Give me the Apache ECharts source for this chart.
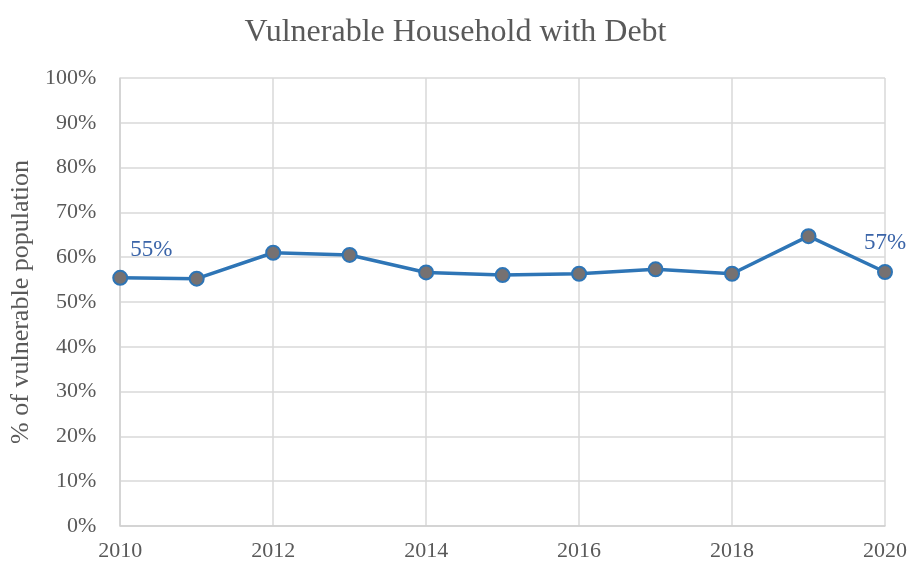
<!DOCTYPE html>
<html>
<head>
<meta charset="utf-8">
<script src="https://cdn.jsdelivr.net/npm/echarts@6/dist/echarts.min.js"></script>
<style>
html,body{margin:0;padding:0;background:#fff;}
#chart{width:911px;height:565px;}
</style>
</head>
<body>
<div id="chart"></div>
<script>
// Share of vulnerable households carrying debt, by year
var years = [2010, 2011, 2012, 2013, 2014, 2015, 2016, 2017, 2018, 2019, 2020];
var debtShare = [55.4, 55.2, 61.0, 60.5, 56.6, 56.0, 56.3, 57.3, 56.3, 64.7, 56.7];
var labelledYears = [2010, 2020];

var FONT = '"Liberation Serif", "Times New Roman", serif';
var GREY = '#595959';

var chart = echarts.init(document.getElementById('chart'));

var points = years.map(function (y, i) {
  var p = { value: [y, debtShare[i]] };
  if (labelledYears.indexOf(y) >= 0) {
    var first = y === years[0];
    p.label = {
      show: true,
      position: 'top',
      distance: first ? 8 : 10,
      offset: first ? [31, 0] : [0, 0],
      formatter: function (d) { return Math.round(d.value[1]) + '%'; }
    };
  }
  return p;
});

chart.setOption({
  animation: false,
  title: {
    text: 'Vulnerable Household with Debt',
    left: 'center',
    top: 12,
    textStyle: { fontFamily: FONT, fontSize: 32, fontWeight: 'normal', color: GREY }
  },
  grid: { left: 119, right: 26, top: 78, bottom: 39 },
  xAxis: {
    type: 'value',
    min: 2010,
    max: 2020,
    interval: 2,
    axisLine: { show: true, lineStyle: { color: '#d0d0d0', width: 1.5 } },
    axisTick: { show: false },
    splitLine: { show: true, lineStyle: { color: '#d9d9d9', width: 1.5 } },
    axisLabel: {
      fontFamily: FONT, fontSize: 22, color: GREY, margin: 14,
      formatter: function (v) { return String(v); }
    }
  },
  yAxis: {
    type: 'value',
    min: 0,
    max: 100,
    interval: 10,
    name: '% of vulnerable population',
    nameLocation: 'middle',
    nameGap: 86,
    nameTextStyle: { fontFamily: FONT, fontSize: 26, color: GREY },
    axisLine: { show: true, lineStyle: { color: '#d0d0d0', width: 1.5 } },
    axisTick: { show: false },
    splitLine: { show: true, lineStyle: { color: '#d9d9d9', width: 1.5 } },
    axisLabel: {
      fontFamily: FONT, fontSize: 22, color: GREY, margin: 24,
      formatter: function (v) { return v + '%'; }
    }
  },
  series: [{
    type: 'line',
    data: points,
    symbol: 'circle',
    symbolSize: 14,
    lineStyle: { color: '#2e75b6', width: 3.5 },
    itemStyle: { color: '#767171', borderColor: '#2e75b6', borderWidth: 2 },
    label: { fontFamily: FONT, fontSize: 23, color: '#3a64a8' }
  }]
});
</script>
</body>
</html>
